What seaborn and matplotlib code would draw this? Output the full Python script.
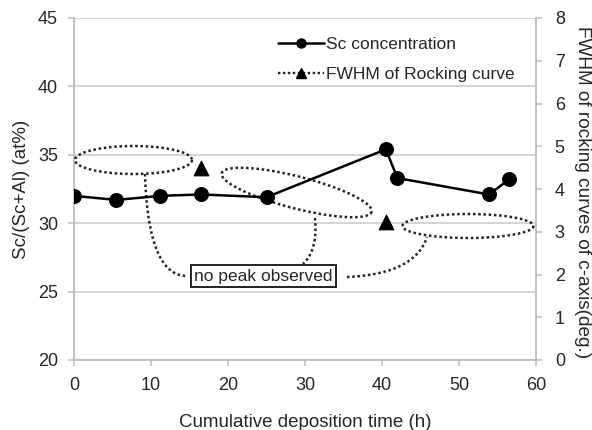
import numpy as np
import pandas as pd
import matplotlib
matplotlib.use("Agg")
import matplotlib.pyplot as plt
import seaborn as sns
from matplotlib.lines import Line2D

# ---------------- data ----------------
time_h = [0.0, 5.5, 11.2, 16.5, 25.0, 40.5, 42.0, 53.9, 56.5]
sc_conc = [32.0, 31.7, 32.0, 32.1, 31.9, 35.4, 33.3, 32.1, 33.2]
fwhm = [np.nan, np.nan, np.nan, 4.5, np.nan, 3.23, np.nan, np.nan, np.nan]

x_ticks = [0, 10, 20, 30, 40, 50, 60]
left_ticks = [20, 25, 30, 35, 40, 45]
right_ticks = [0, 1, 2, 3, 4, 5, 6, 7, 8]

series_names = ["Sc concentration", "FWHM of Rocking curve"]
x_label = "Cumulative deposition time (h)"
left_label = "Sc/(Sc+Al) (at%)"
right_label = "FWHM of rocking curves of c-axis(deg.)"
note_text = "no peak observed"

df = pd.DataFrame({"time": time_h, "sc": sc_conc, "fwhm": fwhm})

# ---------------- style ----------------
sns.set_theme(style="white")
plt.rcParams["font.family"] = ["Liberation Sans", "DejaVu Sans"]
TXT = "#262626"
GRID = "#d0d0d0"
SPINE = "#bcbcbc"
DOT = (0, (1, 1.1))
DOTC = "#222222"

W, H = 592, 430
fig = plt.figure(figsize=(W / 100, H / 100), dpi=100)
ax = fig.add_axes([74 / W, (H - 360) / H, 462 / W, 342 / H])
ax2 = ax.twinx()

sns.lineplot(data=df, x="time", y="sc", ax=ax, color="black", lw=1.8,
             marker="o", markersize=10, markeredgecolor="black", zorder=5,
             legend=False)
sns.scatterplot(data=df.dropna(), x="time", y="fwhm", ax=ax2, color="black",
                marker="^", s=110, edgecolor="black", zorder=5, legend=False)

ax.set_xlim(0, 60)
ax.set_ylim(20, 45)
ax2.set_ylim(0, 8)
ax.set_xticks(x_ticks)
ax.set_yticks(left_ticks)
ax2.set_yticks(right_ticks)

ax.grid(axis="y", color=GRID, lw=1.3)
ax.grid(axis="x", visible=False)
ax2.grid(False)
for a in (ax, ax2):
    for s in a.spines.values():
        s.set_visible(False)
ax.spines["left"].set_visible(True)
ax.spines["bottom"].set_visible(True)
ax2.spines["right"].set_visible(True)
for s in (ax.spines["left"], ax.spines["bottom"], ax2.spines["right"]):
    s.set_color(SPINE)
    s.set_linewidth(1.3)

ax.tick_params(axis="both", direction="out", length=4.5, width=1.1,
               color=SPINE, labelsize=13, labelcolor=TXT, pad=7)
ax.tick_params(axis="y", left=True)
ax.tick_params(axis="x", bottom=True, pad=8)
ax2.tick_params(axis="y", direction="out", length=4.5, width=1.1, right=True,
                color=SPINE, labelsize=13, labelcolor=TXT, pad=9)

ax.set_xlabel(x_label, fontsize=13.5, color=TXT, labelpad=14)
ax.set_ylabel(left_label, fontsize=13.5, color=TXT, labelpad=6)
ax2.set_ylabel(right_label, fontsize=13.7, color=TXT, rotation=-90,
               va="center", ha="center")
ax2.yaxis.set_label_coords((583 - 74) / 462, 0.49)

# legend (frameless)
handles = [
    Line2D([], [], color="black", lw=1.8, marker="o", markersize=6.5),
    Line2D([], [], color=DOTC, lw=1.7, ls=DOT, marker="^", markersize=7,
           markerfacecolor="black", markeredgecolor="black"),
]
leg = ax2.legend(handles, series_names, loc="upper right",
                 bbox_to_anchor=(1 - 9 / 462, 0.98), frameon=False,
                 fontsize=12.5, handlelength=2.6, handletextpad=0.15,
                 labelspacing=0.85, borderaxespad=0.3)
for t in leg.get_texts():
    t.set_color(TXT)

# ---------------- annotation shapes (pixel geometry of the figure) ----------
fig.canvas.draw()
inv = ax.transData.inverted()


def to_data(px, py):
    pts = np.column_stack([px, H - np.asarray(py)])
    return inv.transform(pts)


def ellipse(cx, cy, a, b, ang_deg):
    t = np.linspace(0, 2 * np.pi, 300)
    th = np.deg2rad(ang_deg)
    ex = a * np.cos(t)
    ey = b * np.sin(t)
    px = cx + ex * np.cos(th) - ey * np.sin(th)
    py = cy + ex * np.sin(th) + ey * np.cos(th)
    d = to_data(px, py)
    ax.plot(d[:, 0], d[:, 1], color=DOTC, lw=1.8, ls=DOT, zorder=3)


def bezier(p0, p1, p2):
    t = np.linspace(0, 1, 100)[:, None]
    p0, p1, p2 = map(np.asarray, (p0, p1, p2))
    pts = (1 - t) ** 2 * p0 + 2 * (1 - t) * t * p1 + t ** 2 * p2
    d = to_data(pts[:, 0], pts[:, 1])
    ax.plot(d[:, 0], d[:, 1], color=DOTC, lw=1.8, ls=DOT, zorder=3)


ellipse(133.5, 160, 58.5, 14, 0)
ellipse(296.7, 192.5, 77.4, 16, 14.4)
ellipse(468, 226, 65.5, 12, 0)

bezier((145, 174), (148, 276), (187, 276))
bezier((315, 218), (318, 250), (303, 264))
bezier((347, 277), (415, 274), (427, 237))

tx, ty = to_data([263.5], [276])[0]
ax.text(tx, ty, note_text, ha="center", va="center", fontsize=12.5,
        color=TXT, zorder=6,
        bbox=dict(boxstyle="square,pad=0.2", fc="white", ec="#222222", lw=1.4))

fig.savefig("out.png", dpi=100)
